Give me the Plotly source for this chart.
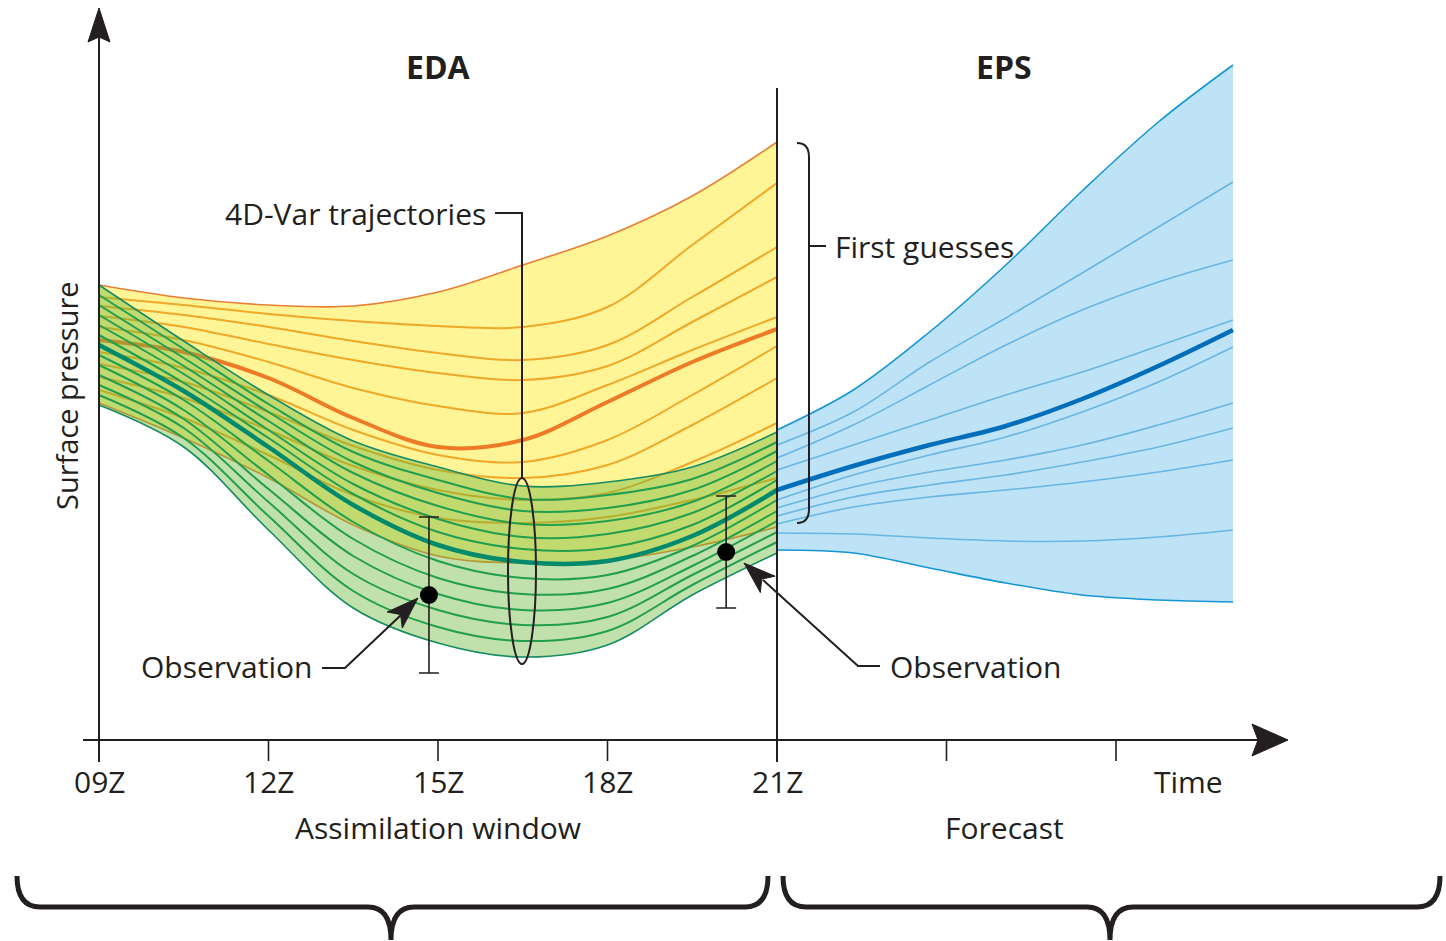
import plotly.graph_objects as go

# ---------------- data (hours UTC, surface pressure in arbitrary units) ----------------
eda_hours = [9, 10.5, 12, 13.5, 15, 16.5, 18, 19.5, 21]
eps_hours = [21, 22.35, 23.7, 25.05, 26.4, 27.75, 29.07]

# first-guess (previous forecast) trajectories - yellow band
fg_top = [45.5, 44.2, 43.5, 43.4, 44.8, 47.5, 50.4, 54.4, 59.8]
fg_m1 = [44.3, 43.5, 42.6, 41.9, 41.4, 41.3, 43.3, 49.5, 55.7]
fg_m2 = [43.4, 42.5, 41.3, 39.9, 38.7, 38.0, 39.5, 44.3, 49.3]
fg_m3 = [42.4, 41.3, 39.6, 38.0, 36.7, 36.0, 37.4, 41.8, 46.3]
fg_m4 = [41.3, 40.0, 37.8, 35.2, 33.4, 32.7, 35.5, 39.0, 42.3]
fg_mean = [40.0, 38.8, 36.2, 32.2, 29.3, 30.0, 33.8, 37.8, 41.1]
fg_m5 = [38.8, 37.2, 34.5, 31.0, 28.5, 27.8, 30.0, 34.5, 39.4]
fg_m6 = [37.6, 35.8, 32.8, 29.4, 27.0, 26.2, 27.5, 31.5, 36.2]
fg_m7 = [36.3, 34.2, 31.0, 27.4, 25.0, 24.0, 24.7, 27.8, 31.7]
fg_m8 = [35.0, 32.2, 28.5, 24.5, 22.2, 21.7, 22.3, 24.0, 26.2]
fg_bottom = [33.7, 30.2, 26.2, 21.5, 18.4, 17.7, 18.0, 19.3, 21.3]

# EDA 4D-Var analysis trajectories - green band
an_top = [45.5, 39.9, 34.5, 29.9, 27.3, 25.4, 25.8, 27.3, 30.8]
an_m1 = [44.5, 39.1, 33.6, 28.8, 26.0, 24.1, 24.5, 26.1, 29.8]
an_m2 = [43.5, 38.2, 32.8, 27.8, 24.7, 22.9, 23.2, 25.0, 28.9]
an_m3 = [42.5, 37.4, 31.9, 26.7, 23.4, 21.6, 21.9, 23.8, 27.9]
an_m4 = [41.5, 36.6, 31.0, 25.6, 22.1, 20.3, 20.6, 22.7, 26.9]
an_m5 = [40.5, 35.7, 30.2, 24.6, 20.8, 19.1, 19.2, 21.5, 26.0]
an_mean = [39.5, 34.9, 29.3, 23.5, 19.5, 17.8, 17.9, 20.4, 25.0]
an_m6 = [38.5, 34.0, 27.9, 21.8, 17.9, 16.2, 16.5, 19.4, 24.0]
an_m7 = [37.5, 33.0, 26.5, 20.1, 16.2, 14.6, 15.1, 18.4, 22.9]
an_m8 = [36.5, 32.1, 25.1, 18.4, 14.6, 13.0, 13.7, 17.4, 21.9]
an_m9 = [35.5, 31.2, 23.8, 16.6, 13.0, 11.5, 12.3, 16.5, 20.8]
an_m10 = [34.5, 30.2, 22.4, 14.9, 11.3, 9.9, 10.9, 15.5, 19.8]
an_bottom = [33.5, 29.3, 21.0, 13.2, 9.7, 8.3, 9.5, 14.5, 18.7]

# EPS forecast trajectories - blue band
fc_top = [31.0, 35.0, 40.8, 47.5, 54.9, 61.8, 67.5]
fc_m1 = [29.5, 32.8, 37.8, 42.2, 46.7, 51.3, 55.8]
fc_m2 = [28.2, 31.5, 35.5, 39.5, 43.0, 45.8, 48.0]
fc_m3 = [27.0, 29.5, 32.0, 34.5, 36.8, 39.4, 42.0]
fc_mean = [25.0, 27.4, 29.5, 31.4, 34.1, 37.4, 41.0]
fc_m4 = [24.0, 26.5, 28.5, 30.3, 32.8, 35.8, 39.3]
fc_m5 = [23.2, 25.3, 26.8, 28.0, 29.5, 31.5, 33.7]
fc_m6 = [22.4, 24.3, 25.5, 26.5, 27.8, 29.3, 31.2]
fc_m7 = [21.6, 23.3, 24.3, 25.0, 25.8, 26.8, 28.0]
fc_m8 = [20.7, 20.6, 20.2, 19.9, 19.9, 20.3, 21.0]
fc_bottom = [19.0, 18.7, 17.2, 15.7, 14.5, 14.0, 13.8]

# observations
obs_hours = [14.84, 20.10]
obs_values = [14.5, 18.8]
obs_errors = [7.8, 5.6]

# time axis
tick_hours = [9, 12, 15, 18, 21, 24, 27]
tick_labels = ["09Z", "12Z", "15Z", "18Z", "21Z", "", ""]

# ---------------- styling ----------------
INK = "#231f20"
FONT = "Open Sans"
FS = 30

YELLOW_FILL = "rgb(255,244,150)"
OR_THIN = "rgb(240,168,40)"
OR_EDGE = "rgb(232,128,52)"
OR_MEAN = "rgb(236,122,38)"
GREEN_FILL = "rgba(105,182,58,0.42)"
GR_THIN = "rgb(34,158,78)"
GR_EDGE = "rgb(22,140,96)"
GR_MEAN = "rgb(0,138,108)"
BLUE_FILL = "rgb(190,226,246)"
BL_THIN = "rgb(105,182,226)"
BL_EDGE = "rgb(22,150,212)"
BL_MEAN = "rgb(0,110,186)"

# pixel helpers used only for decorations (arrows, braces, labels)
def hx(px):
    return 9 + (px - 99) / 56.5

def vy(py):
    return (740 - py) / 10.0

def path(cmds):
    s = ""
    for c, pts in cmds:
        s += c + " " + " ".join(f"{hx(x):.4f},{vy(y):.4f}" for x, y in pts) + " "
    return s.strip()

fig = go.Figure()

def line(x, y, color, width, fill=None, fillcolor=None):
    fig.add_trace(go.Scatter(
        x=x, y=y, mode="lines", line=dict(color=color, width=width, shape="spline", smoothing=1.0),
        fill=fill, fillcolor=fillcolor, hoverinfo="skip", showlegend=False))

# yellow band
line(eda_hours, fg_top, OR_EDGE, 0)
line(eda_hours, fg_bottom, OR_EDGE, 0, fill="tonexty", fillcolor=YELLOW_FILL)
for m in [fg_m1, fg_m2, fg_m3, fg_m4, fg_m5, fg_m6, fg_m7, fg_m8]:
    line(eda_hours, m, OR_THIN, 2)
line(eda_hours, fg_top, OR_EDGE, 1.6)
line(eda_hours, fg_bottom, OR_EDGE, 1.6)
line(eda_hours, fg_mean, OR_MEAN, 4)

# green band
line(eda_hours, an_top, GR_EDGE, 0)
line(eda_hours, an_bottom, GR_EDGE, 0, fill="tonexty", fillcolor=GREEN_FILL)
for m in [an_m1, an_m2, an_m3, an_m4, an_m5, an_m6, an_m7, an_m8, an_m9, an_m10]:
    line(eda_hours, m, GR_THIN, 2)
line(eda_hours, an_top, GR_EDGE, 1.6)
line(eda_hours, an_bottom, GR_EDGE, 1.6)
line(eda_hours, an_mean, GR_MEAN, 4.5)

# blue band
line(eps_hours, fc_top, BL_EDGE, 0)
line(eps_hours, fc_bottom, BL_EDGE, 0, fill="tonexty", fillcolor=BLUE_FILL)
for m in [fc_m1, fc_m2, fc_m3, fc_m4, fc_m5, fc_m6, fc_m7, fc_m8]:
    line(eps_hours, m, BL_THIN, 1.6)
line(eps_hours, fc_top, BL_EDGE, 1.6)
line(eps_hours, fc_bottom, BL_EDGE, 1.6)
line(eps_hours, fc_mean, BL_MEAN, 4.5)

# observations with error bars
fig.add_trace(go.Scatter(
    x=obs_hours, y=obs_values, mode="markers",
    marker=dict(color="black", size=18),
    error_y=dict(type="data", array=obs_errors, color=INK, thickness=1.6, width=10),
    hoverinfo="skip", showlegend=False))

shapes = []
def seg(cmds, width=2, color=INK, fillcolor=None):
    d = dict(type="path", path=path(cmds), line=dict(color=color, width=width),
             xref="x", yref="y", layer="above")
    if fillcolor:
        d["fillcolor"] = fillcolor
    shapes.append(d)

# axes
seg([("M", [(99, 762)]), ("L", [(99, 36)])], 2)
seg([("M", [(99, 8)]), ("L", [(110, 42)]), ("L", [(99, 37)]), ("L", [(88, 42)]), ("Z", [])], 1, INK, INK)
seg([("M", [(83, 740)]), ("L", [(1262, 740)])], 2)
seg([("M", [(1288, 740)]), ("L", [(1252, 724)]), ("L", [(1258, 740)]), ("L", [(1252, 756)]), ("Z", [])], 1, INK, INK)
seg([("M", [(777, 88)]), ("L", [(777, 762)])], 2)
for h in tick_hours:
    if h not in (9, 21):
        shapes.append(dict(type="line", x0=h, x1=h, y0=vy(740), y1=vy(761), xref="x", yref="y",
                           line=dict(color=INK, width=1.6), layer="above"))

# 4D-Var leader and ellipse
seg([("M", [(495, 213)]), ("L", [(522, 213)]), ("L", [(522, 478)])], 2)
shapes.append(dict(type="circle", x0=hx(508), x1=hx(536), y0=vy(664), y1=vy(478), xref="x", yref="y",
                   line=dict(color=INK, width=2), layer="above"))

# first guesses bracket
seg([("M", [(797, 143)]), ("Q", [(809, 143), (809, 157)]), ("L", [(809, 509)]),
     ("Q", [(809, 523), (797, 523)])], 2)
seg([("M", [(809, 246)]), ("L", [(826, 246)])], 2)

# observation arrows
seg([("M", [(322, 668)]), ("L", [(345, 668)]), ("L", [(401, 615)])], 2)
seg([("M", [(418, 598)]), ("L", [(402.3, 628.0)]), ("L", [(400.6, 614.5)]), ("L", [(387.1, 612.0)]), ("Z", [])],
    1, INK, INK)
seg([("M", [(880, 666)]), ("L", [(858, 666)]), ("L", [(763, 580)])], 2)
seg([("M", [(744, 563)]), ("L", [(775.1, 576.2)]), ("L", [(761.8, 579.1)]), ("L", [(760.3, 592.6)]), ("Z", [])],
    1, INK, INK)

# bottom braces
seg([("M", [(17, 876)]), ("Q", [(17, 907), (40, 907)]), ("L", [(368, 907)]), ("Q", [(391, 907), (391, 940)]),
     ("Q", [(391, 907), (414, 907)]), ("L", [(745, 907)]), ("Q", [(768, 907), (768, 876)])], 5)
seg([("M", [(783, 876)]), ("Q", [(783, 907), (806, 907)]), ("L", [(1087, 907)]), ("Q", [(1110, 907), (1110, 940)]),
     ("Q", [(1110, 907), (1133, 907)]), ("L", [(1417, 907)]), ("Q", [(1440, 907), (1440, 876)])], 5)

annotations = []
def text(t, px, py, size=FS, xanchor="center", bold=False, angle=0):
    annotations.append(dict(text=t, x=hx(px), y=vy(py), xref="x", yref="y", showarrow=False,
                            xanchor=xanchor, yanchor="middle", textangle=angle,
                            font=dict(family=FONT, size=size, color=INK, weight="bold" if bold else "normal")))

text("EDA", 438, 66, 32, bold=True)
text("EPS", 1004, 66, 32, bold=True)
text("Surface pressure", 66, 396, 29, angle=-90)
for h, lab in zip(tick_hours, tick_labels):
    if lab:
        annotations.append(dict(text=lab, x=h, y=vy(781), xref="x", yref="y", showarrow=False,
                                xanchor="center", yanchor="middle",
                                font=dict(family=FONT, size=FS, color=INK)))
text("Time", 1188, 781)
text("Assimilation window", 438, 827)
text("Forecast", 1004, 827)
text("4D-Var trajectories", 488, 213, xanchor="right")
text("First guesses", 833, 246, xanchor="left")
text("Observation", 314, 666, xanchor="right")
text("Observation", 888, 666, xanchor="left")

fig.update_layout(
    width=1446, height=941,
    margin=dict(l=0, r=0, t=0, b=0),
    paper_bgcolor="white", plot_bgcolor="white",
    xaxis=dict(range=[hx(0), hx(1446)], visible=False, fixedrange=True),
    yaxis=dict(range=[vy(941), vy(0)], visible=False, fixedrange=True),
    shapes=shapes, annotations=annotations, showlegend=False, hovermode=False,
)

fig.write_html("out.html", config={"displayModeBar": False},
               post_script="document.body.style.margin='0px'; document.body.style.overflow='hidden';")
